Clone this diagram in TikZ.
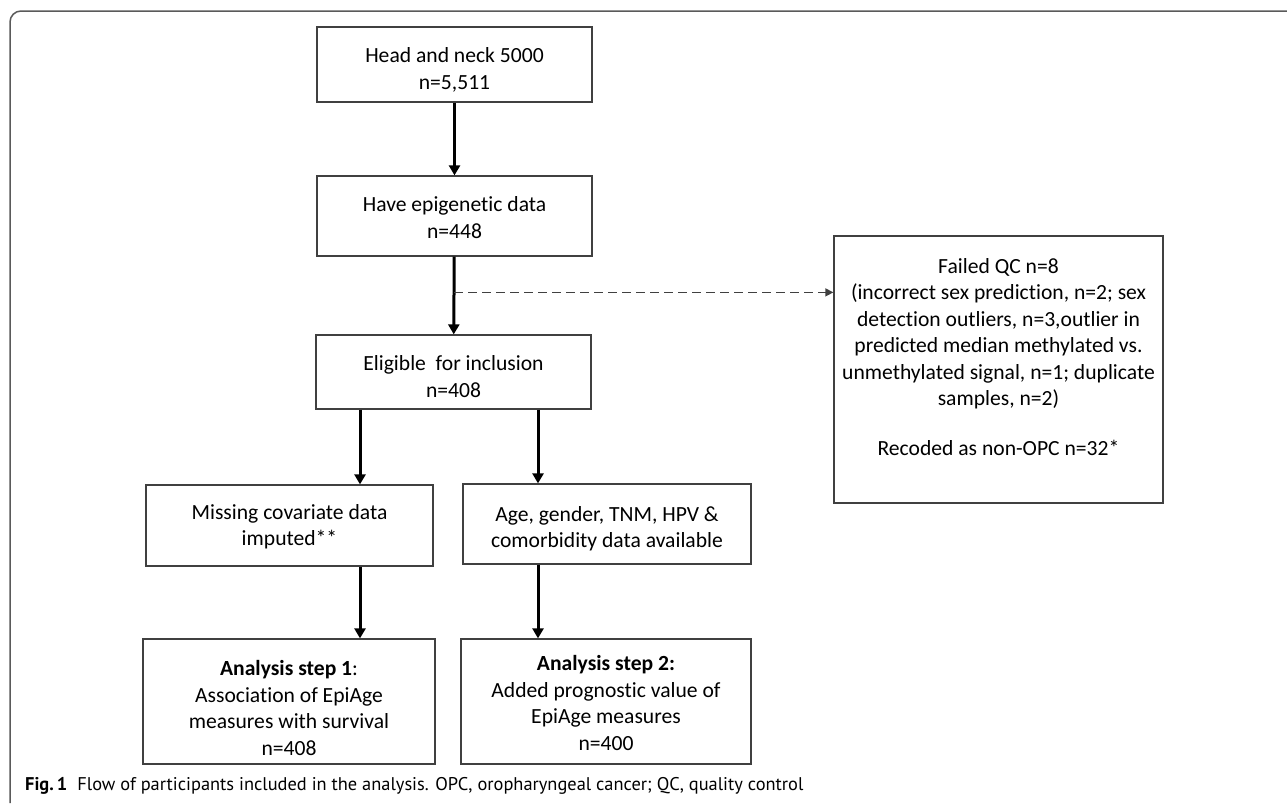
\documentclass[tikz,border=0pt]{standalone}
\usepackage{fontspec}
\setmainfont{Carlito}[Ligatures=NoCommon]
\newfontfamily\capfont{PT Sans}
\usetikzlibrary{arrows.meta,calc}
\definecolor{boxline}{HTML}{404040}
\definecolor{frameline}{HTML}{5A5A5A}
\tikzset{
  flowbox/.style={draw=boxline, line width=1.3pt, inner sep=0pt},
  boxtext/.style={align=center, inner sep=0pt, text=black,
    font=\fontsize{21.6}{26.5}\selectfont},
  arr/.style={line width=3pt, -{Triangle[length=10pt,width=11pt]}},
  dasharr/.style={line width=1.3pt, draw=black!75, dash pattern=on 9pt off 5pt,
    -{Triangle[length=8pt,width=8pt]}},
}
\begin{document}
\begin{tikzpicture}[x=1pt,y=-1pt]
\useasboundingbox (0,0) rectangle (1287,803);
\fill[white] (0,0) rectangle (1287,803);
% outer frame
\draw[frameline, line width=1.5pt, rounded corners=11pt] (10,803) -- (10,11) -- (1287,11);

% boxes
\node[flowbox, minimum width=275pt, minimum height=75pt] (b1) at (454.5,64.5) {};
\node[flowbox, minimum width=275pt, minimum height=80pt] (b2) at (454.5,216) {};
\node[flowbox, minimum width=275pt, minimum height=74pt] (b3) at (453.5,372) {};
\node[flowbox, minimum width=287pt, minimum height=81pt] (b4) at (289.5,525.5) {};
\node[flowbox, minimum width=288pt, minimum height=80pt] (b5) at (607,524) {};
\node[flowbox, minimum width=292pt, minimum height=125pt] (b6) at (289,701.5) {};
\node[flowbox, minimum width=290pt, minimum height=125pt] (b7) at (606,701.5) {};
\node[flowbox, minimum width=329pt, minimum height=267pt] (qc) at (998.5,369.5) {};

% box texts
\node[boxtext] (b1t) at ([yshift=-5.5pt]b1.center) {Head and neck 5000\\n=5,511};
\node[boxtext] (b2t) at ([yshift=-1.5pt]b2.center) {Have epigenetic data\\n=448};
\node[boxtext] (b3t) at ([yshift=-4.5pt]b3.center) {Eligible\ \ for inclusion\\n=408};
\node[boxtext] (b4t) at ([yshift=-1pt]b4.center) {Missing covariate data\\imputed**};
\node[boxtext] (b5t) at ([yshift=-4.5pt]b5.center) {Age, gender, TNM, HPV \&\\comorbidity data available};
\node[boxtext] (b6t) at ([yshift=-6.5pt]b6.center)
  {\textbf{Analysis step 1}:\\Association of EpiAge\\measures with survival\\n=408};
\node[boxtext] (b7t) at ([yshift=-1.5pt]b7.center)
  {\textbf{Analysis step 2:}\\Added prognostic value of\\EpiAge measures\\n=400};
\node[boxtext, anchor=north] (qct) at (998.5,258)
  {Failed QC n=8\\(incorrect sex prediction, n=2; sex\\detection outliers, n=3,outlier in\\predicted median methylated vs.\\unmethylated signal, n=1; duplicate\\samples, n=2)\\[23pt]Recoded as non-OPC n=32*};

% connectors
\draw[arr] (b1) -- (b2);
\draw[arr] (b2) -- (b3);
\coordinate (dstart) at ($(b2.south)!0.46!(b3.north)$);
\draw[dasharr] (dstart) -- (dstart -| qc.west);

\coordinate (xl) at (360,0);
\coordinate (xr) at (538,0);
\draw[arr] (b3.south -| xl) -- (b4.north -| xl);
\draw[arr] (b3.south -| xr) -- (b5.north -| xr);
\draw[arr] (b4.south -| xl) -- (b6.north -| xl);
\draw[arr] (b5.south -| xr) -- (b7.north -| xr);

% caption
\node[anchor=west, inner sep=0pt, font=\capfont\fontsize{18.4}{21}\selectfont] (cap) at (25,786)
  {\textbf{Fig.\,1}\hspace{10pt}Flow of participants included in the analysis. OPC, oropharyngeal cancer; QC, quality control};
\end{tikzpicture}
\end{document}
